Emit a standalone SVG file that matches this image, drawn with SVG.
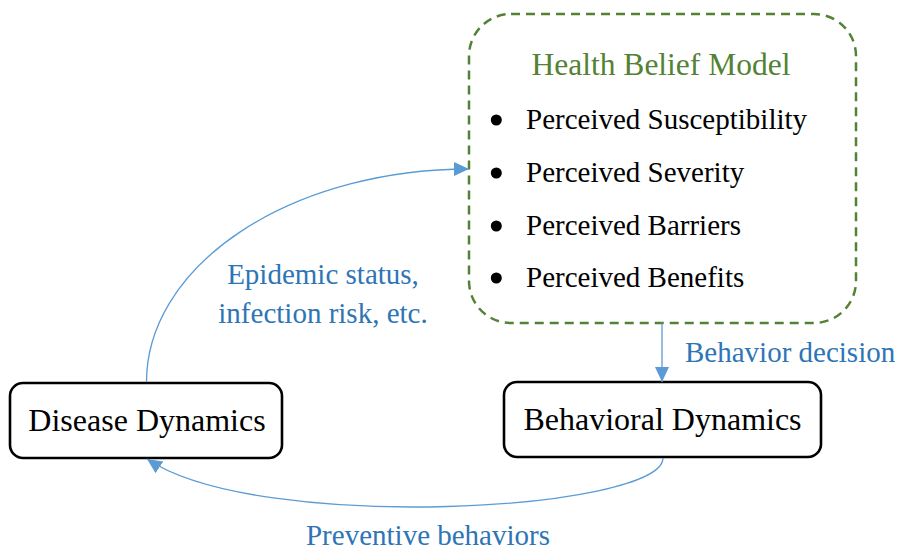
<svg xmlns="http://www.w3.org/2000/svg" width="898" height="552" viewBox="0 0 898 552">
<defs>
<style>
.t{font-family:"Liberation Serif","Times New Roman",serif;}
.node{fill:#fff;stroke:#000;stroke-width:2.6;}
.lbl{font-size:32px;fill:#000;text-anchor:middle;}
.item{font-size:29px;fill:#000;}
.edge{fill:none;stroke:#5B9BD5;stroke-width:1.3;}
.elbl{font-size:29px;fill:#2E75B6;}
</style>
<marker id="ah" markerUnits="userSpaceOnUse" markerWidth="16" markerHeight="15" refX="15" refY="7" orient="auto">
<path d="M0,0 L15,7 L0,14 z" fill="#5B9BD5"/>
</marker>
</defs>
<rect width="898" height="552" fill="#fff"/>
<g id="hbm">
<rect x="469" y="14" width="387" height="309" rx="42" ry="42" fill="#fff" stroke="#548235" stroke-width="2.5" stroke-dasharray="9,6"/>
<text class="t" x="661" y="75" font-size="31.5" fill="#548235" text-anchor="middle">Health Belief Model</text>
<circle cx="496.3" cy="120" r="5.5" fill="#000"/>
<text class="t item" x="526" y="129">Perceived Susceptibility</text>
<circle cx="496.3" cy="173" r="5.5" fill="#000"/>
<text class="t item" x="526" y="182">Perceived Severity</text>
<circle cx="496.3" cy="226" r="5.5" fill="#000"/>
<text class="t item" x="526" y="235">Perceived Barriers</text>
<circle cx="496.3" cy="278" r="5.5" fill="#000"/>
<text class="t item" x="526" y="287">Perceived Benefits</text>
</g>
<g id="disease">
<rect class="node" x="10" y="383" width="272" height="75" rx="13" ry="13"/>
<text class="t lbl" x="147" y="431">Disease Dynamics</text>
</g>
<g id="behavioral">
<rect class="node" x="504" y="382" width="317" height="75" rx="13" ry="13"/>
<text class="t lbl" x="662.5" y="430">Behavioral Dynamics</text>
</g>
<g id="connectors">
<path class="edge" d="M146.5,382 A322.5,213 0 0 1 469,169" marker-end="url(#ah)"/>
<text class="t elbl" x="323" y="284" text-anchor="middle">Epidemic status,</text>
<text class="t elbl" x="323" y="323" text-anchor="middle">infection risk, etc.</text>
<path class="edge" d="M662,323 L662,382" marker-end="url(#ah)"/>
<text class="t elbl" x="685" y="362">Behavior decision</text>
<path class="edge" d="M663,458 C663,510 260,535 147,459" marker-end="url(#ah)"/>
<text class="t elbl" x="428" y="545" text-anchor="middle">Preventive behaviors</text>
</g>
</svg>
